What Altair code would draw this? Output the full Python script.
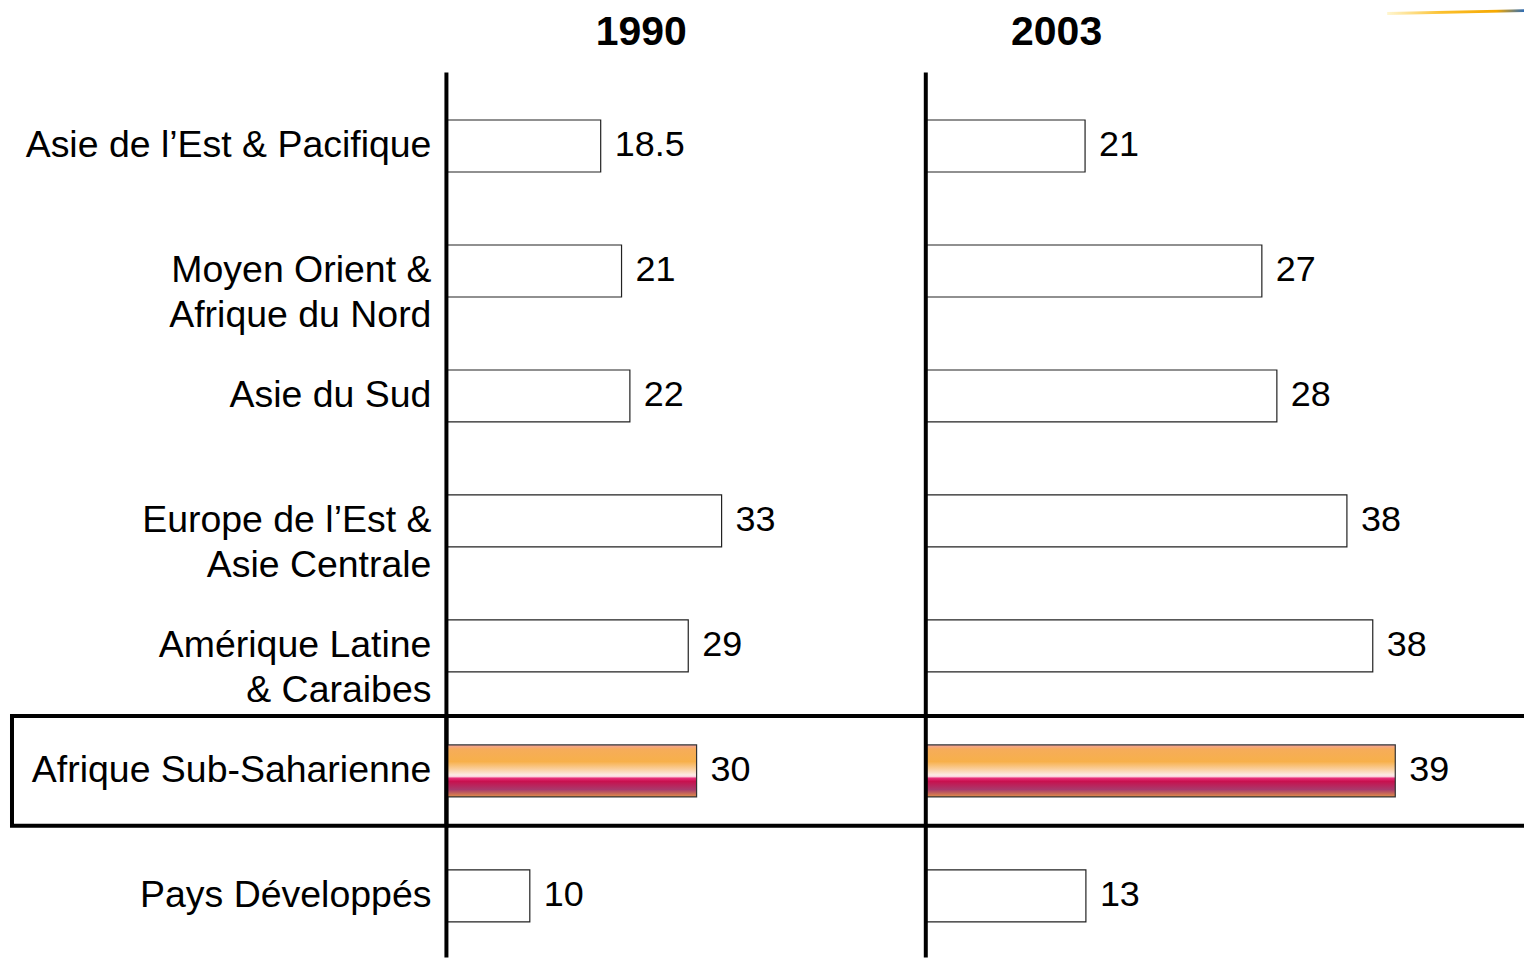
import altair as alt
import pandas as pd

# ---------------- data ----------------
years = ["1990", "2003"]
regions = [
    "Asie de l’Est & Pacifique",
    "Moyen Orient & Afrique du Nord",
    "Asie du Sud",
    "Europe de l’Est & Asie Centrale",
    "Amérique Latine & Caraibes",
    "Afrique Sub-Saharienne",
    "Pays Développés",
]
labels = [
    "Asie de l’Est & Pacifique",
    "Moyen Orient &\nAfrique du Nord",
    "Asie du Sud",
    "Europe de l’Est &\nAsie Centrale",
    "Amérique Latine\n& Caraibes",
    "Afrique Sub-Saharienne",
    "Pays Développés",
]
values_1990 = [18.5, 21, 22, 33, 29, 30, 10]
values_2003 = [21, 27, 28, 38, 38, 39, 13]
# bar lengths as drawn in the source (the 2003 bars are not drawn to scale there)
drawn_1990 = [18.5, 21, 22, 33, 29, 30, 10]
drawn_2003 = [19.1, 40.3, 42.1, 50.5, 53.6, 56.3, 19.2]
highlight = "Afrique Sub-Saharienne"

df = pd.DataFrame({
    "region": regions,
    "label": labels,
    "v1990": values_1990,
    "v2003": values_2003,
    "d1990": drawn_1990,
    "d2003": drawn_2003,
})

# ---------------- style ----------------
FONT = "Liberation Sans"
H = 950
LEFT_W = 439
PANEL_W = {"1990": 480, "2003": 599}
PX_PER_UNIT = 8.35

Y_SCALE = alt.Scale(domain=regions, range=[75, 951], paddingInner=0.584, paddingOuter=0.292)

GRAD = {
    "gradient": "linear", "x1": 0, "y1": 0, "x2": 0, "y2": 1,
    "stops": [
        {"offset": 0.0, "color": "#F4A3A0"},
        {"offset": 0.08, "color": "#F6AC5A"},
        {"offset": 0.32, "color": "#F7B04A"},
        {"offset": 0.47, "color": "#FAD0A0"},
        {"offset": 0.58, "color": "#FDEBE6"},
        {"offset": 0.61, "color": "#FBD0DC"},
        {"offset": 0.64, "color": "#E8307A"},
        {"offset": 0.70, "color": "#C8104E"},
        {"offset": 0.86, "color": "#A83A6C"},
        {"offset": 1.0, "color": "#E29048"},
    ],
}

LOGO_GRAD = {
    "gradient": "linear", "x1": 0, "y1": 0, "x2": 1, "y2": 0,
    "stops": [
        {"offset": 0.0, "color": "#FFF6D0"},
        {"offset": 0.4, "color": "#FBC02D"},
        {"offset": 0.8, "color": "#F5A800"},
        {"offset": 1.0, "color": "#2F6DB5"},
    ],
}


def y_enc():
    return alt.Y("region:N", scale=Y_SCALE, axis=None, sort=regions)


base = alt.Chart(df)

# ---------------- label panel ----------------
label_text = base.mark_text(
    align="right", baseline="middle", fontSize=37.5, font=FONT,
    lineBreak="\n", lineHeight=45, color="black",
).encode(x=alt.value(424), y=y_enc(), text="label:N")

label_box = base.transform_filter(alt.datum.region == highlight).mark_bar(
    height=110, fill="white", fillOpacity=0, stroke="black", strokeWidth=4,
).encode(x=alt.value(4), x2=alt.value(LEFT_W), y=y_enc())

left_panel = alt.layer(label_box, label_text).properties(width=LEFT_W, height=H)


# ---------------- year panels ----------------
def year_panel(year):
    w = PANEL_W[year]
    xs = alt.Scale(domain=[0, w / PX_PER_UNIT])
    x_enc = alt.X(f"d{year}:Q", scale=xs, axis=None)

    bars = base.transform_filter(alt.datum.region != highlight).mark_bar(
        fill="white", stroke="#222222", strokeWidth=1.2,
    ).encode(x=x_enc, y=y_enc())

    hl_bar = base.transform_filter(alt.datum.region == highlight).mark_bar(
        fill=GRAD, stroke="#333333", strokeWidth=1.2,
    ).encode(x=x_enc, y=y_enc())

    vals = base.mark_text(
        align="left", baseline="middle", dx=14, dy=-1, fontSize=36, font=FONT, color="black",
    ).encode(x=x_enc, y=y_enc(), text=alt.Text(f"v{year}:Q"))

    box_top = base.transform_filter(alt.datum.region == highlight).mark_rule(
        color="black", strokeWidth=4, yOffset=-55,
    ).encode(y=y_enc(), x=alt.value(0), x2=alt.value(w))
    box_bot = base.transform_filter(alt.datum.region == highlight).mark_rule(
        color="black", strokeWidth=4, yOffset=55,
    ).encode(y=y_enc(), x=alt.value(0), x2=alt.value(w))

    axis_line = alt.Chart(pd.DataFrame({"year": [year]})).mark_rule(
        color="black", strokeWidth=4,
    ).encode(x=alt.value(0), y=alt.value(64), y2=alt.value(H))

    title = alt.Chart(pd.DataFrame({"year": [year]})).mark_text(
        fontSize=41, fontWeight="bold", font=FONT, align="center", baseline="middle", color="black",
    ).encode(text="year:N", x=alt.value(195 if year == "1990" else 131), y=alt.value(24))

    layers = [bars, hl_bar, vals, box_top, box_bot, axis_line, title]
    if year == "2003":
        logo = alt.Chart(pd.DataFrame({"year": [year]})).mark_rule(
            stroke=LOGO_GRAD, strokeWidth=3, strokeCap="butt",
        ).encode(x=alt.value(462), x2=alt.value(w), y=alt.value(5), y2=alt.value(2))
        layers.append(logo)

    return alt.layer(*layers).properties(width=w, height=H)


chart = alt.hconcat(
    left_panel, year_panel("1990"), year_panel("2003"), spacing=0
).properties(
    padding=0, bounds="flush", background="white"
).configure_view(stroke=None)

chart.save("out.html", embed_options={"renderer": "svg", "actions": False})
